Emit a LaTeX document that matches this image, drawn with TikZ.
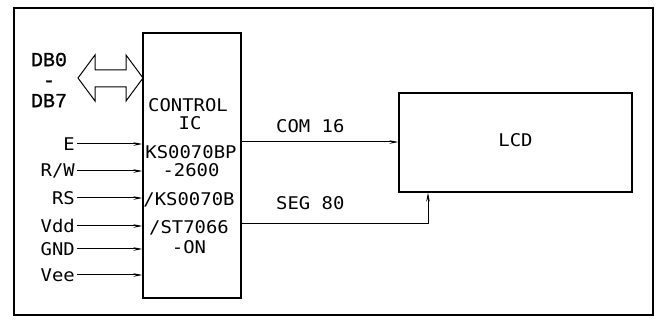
\documentclass[tikz,border=0pt]{standalone}
\usepackage{fontspec}
\newfontfamily\cad[FakeStretch=1.08]{DejaVu Sans Mono}
\newfontfamily\dbfont[FakeBold=1]{Liberation Mono}
\usetikzlibrary{arrows.meta}
\begin{document}
\begin{tikzpicture}[x=1pt,y=-1pt,
  box/.style={draw,line width=1.1pt,inner sep=0pt},
  txt/.style={inner sep=0pt,font=\cad\fontsize{17.5}{20}\selectfont},
  dbtxt/.style={inner sep=0pt,align=center,font=\dbfont\fontsize{20}{20.5}\selectfont},
  sig/.style={line width=1pt,-{Stealth[length=9pt,width=3.5pt]}},
  wire/.style={line width=1pt}]
\useasboundingbox (0,0) rectangle (656,320);
% outer frame
\draw[line width=1.4pt] (14,8) rectangle (653,315);
% boxes
\node[box,minimum width=98pt,minimum height=265pt] (ic) at (192,165.5) {};
\node[box,minimum width=233pt,minimum height=99pt] (lcd) at (515.5,142.5) {};
\node[txt] (lcdt) at (515.5,140) {LCD};
% IC texts
\node[txt] (t1) at (188,105) {CONTROL};
\node[txt] (t2) at (190,123) {IC};
\node[txt] (t3) at (191,152) {KS0070BP};
\node[txt] (t4) at (191,170) {-2600};
\node[txt] (t5) at (189,200) {/KS0070B};
\node[txt] (t6) at (189,228) {/ST7066};
\node[txt] (t7) at (189,247) {-ON};
% data bus
\node[dbtxt] (db) at (49,80) {DB0\\-\\DB7};
\draw[line width=1pt,line join=miter] (78,78) -- (95,55) -- (95,70) -- (126,70) -- (126,55) -- (143,78)
  -- (126,101) -- (126,87) -- (95,87) -- (95,101) -- cycle;
% input signals
\foreach \n/\t/\y in {e/E/144, rw/R\slash W/171, rs/RS/198, vdd/Vdd/226, gnd/GND/249, vee/Vee/275}{
  \node[txt,anchor=east] (\n) at (75,\y) {\t};
  \draw[sig] ([xshift=2pt]\n.east) -- (ic.west |- \n.east);
}
% outputs
\coordinate (com) at (241,142);
\draw[sig] (ic.east |- com) -- (lcd.west |- com);
\node[txt,anchor=west] (coml) at (276,126) {COM 16};
\coordinate (seg) at (241,224);
\coordinate (segc) at (428,224);
\draw[wire] (ic.east |- seg) -- (segc);
\draw[sig] (segc) -- (segc |- lcd.south);
\node[txt,anchor=west] (segl) at (276,203) {SEG 80};
\end{tikzpicture}
\end{document}
